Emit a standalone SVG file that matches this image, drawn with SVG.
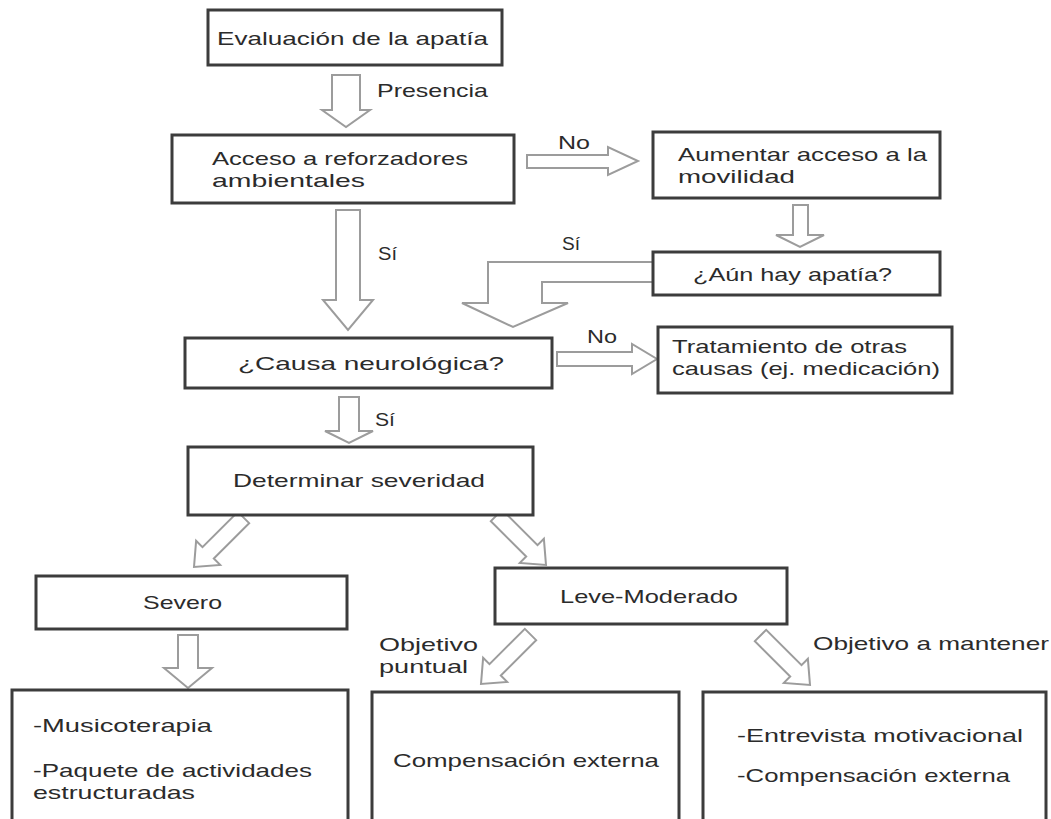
<svg xmlns="http://www.w3.org/2000/svg" xmlns:xlink="http://www.w3.org/1999/xlink" width="1051" height="819" viewBox="0 0 1051 819">
<style>
.box{fill:#fff;stroke:#3c3c3c;stroke-width:3}
.arr{fill:#fff;stroke:#9c9c9c;stroke-width:2;stroke-linejoin:miter}
text{font-family:"Liberation Sans","Open Sans","DejaVu Sans",sans-serif;font-size:19px;fill:#2b2b2b}
</style>
<defs>
<path id="diag" class="arr" d="M-8,-70 L8,-70 L8,-20 L17,-20 L0,0 L-17,-20 L-8,-20 Z"/>
</defs>
<rect width="1051" height="819" fill="#fff"/>
<g id="connectors">
<polygon class="arr" points="332,75 360,75 360,110 370,110 346,127 322,110 332,110"/>
<polygon class="arr" points="527,155 608,155 608,147 638,161 608,175 608,168 527,168"/>
<polygon class="arr" points="793,205 808,205 808,235 824,235 800,247 776,235 793,235"/>
<polygon class="arr" points="653,262 488,262 488,303 462,303 513,327 568,303 542,303 542,282 653,282"/>
<polygon class="arr" points="336,210 360,210 360,300 373,300 348,330 323,300 336,300"/>
<polygon class="arr" points="557,352 632,352 632,344 657,359 632,374 632,366 557,366"/>
<polygon class="arr" points="339,397 359,397 359,431 373,431 349,443 325,431 339,431"/>
<use xlink:href="#diag" transform="translate(194,567) rotate(45)"/>
<use xlink:href="#diag" transform="translate(546,565) rotate(-45)"/>
<polygon class="arr" points="178,635 198,635 198,668 212,668 188,688 164,668 178,668"/>
<use xlink:href="#diag" transform="translate(481,684) rotate(45)"/>
<use xlink:href="#diag" transform="translate(810,685) rotate(-45)"/>
<text x="377" y="97" textLength="111" lengthAdjust="spacingAndGlyphs">Presencia</text>
<text x="558" y="149" textLength="32" lengthAdjust="spacingAndGlyphs">No</text>
<text x="562" y="250" textLength="18" lengthAdjust="spacingAndGlyphs">Sí</text>
<text x="378" y="260" textLength="19" lengthAdjust="spacingAndGlyphs">Sí</text>
<text x="587" y="343" textLength="30" lengthAdjust="spacingAndGlyphs">No</text>
<text x="375" y="426" textLength="20" lengthAdjust="spacingAndGlyphs">Sí</text>
<text x="379" y="651" textLength="99" lengthAdjust="spacingAndGlyphs">Objetivo</text>
<text x="379" y="673" textLength="89" lengthAdjust="spacingAndGlyphs">puntual</text>
<text x="813" y="650" textLength="236" lengthAdjust="spacingAndGlyphs">Objetivo a mantener</text>
</g>
<g id="n1"><rect class="box" x="208" y="10" width="294" height="55"/>
<text x="217" y="45" textLength="271" lengthAdjust="spacingAndGlyphs">Evaluación de la apatía</text></g>
<g id="n2"><rect class="box" x="172" y="135" width="342" height="68"/>
<text x="212" y="165" textLength="256" lengthAdjust="spacingAndGlyphs">Acceso a reforzadores</text>
<text x="212" y="187" textLength="153" lengthAdjust="spacingAndGlyphs">ambientales</text></g>
<g id="n3"><rect class="box" x="653" y="132" width="287" height="66"/>
<text x="678" y="161" textLength="249" lengthAdjust="spacingAndGlyphs">Aumentar acceso a la</text>
<text x="678" y="183" textLength="117" lengthAdjust="spacingAndGlyphs">movilidad</text></g>
<g id="n4"><rect class="box" x="653" y="252" width="287" height="43"/>
<text x="693" y="281" textLength="199" lengthAdjust="spacingAndGlyphs">¿Aún hay apatía?</text></g>
<g id="n5"><rect class="box" x="185" y="338" width="367" height="50"/>
<text x="238" y="370" textLength="266" lengthAdjust="spacingAndGlyphs">¿Causa neurológica?</text></g>
<g id="n6"><rect class="box" x="658" y="327" width="294" height="66"/>
<text x="672" y="353" textLength="235" lengthAdjust="spacingAndGlyphs">Tratamiento de otras</text>
<text x="672" y="375" textLength="268" lengthAdjust="spacingAndGlyphs">causas (ej. medicación)</text></g>
<g id="n7"><rect class="box" x="188" y="447" width="345" height="68"/>
<text x="233" y="487" textLength="252" lengthAdjust="spacingAndGlyphs">Determinar severidad</text></g>
<g id="n8"><rect class="box" x="36" y="576" width="311" height="53"/>
<text x="143" y="609" textLength="79" lengthAdjust="spacingAndGlyphs">Severo</text></g>
<g id="n9"><rect class="box" x="495" y="568" width="292" height="56"/>
<text x="560" y="603" textLength="178" lengthAdjust="spacingAndGlyphs">Leve-Moderado</text></g>
<g id="n10"><rect class="box" x="12" y="690" width="336" height="140"/>
<text x="33" y="732" textLength="179" lengthAdjust="spacingAndGlyphs">-Musicoterapia</text>
<text x="33" y="777" textLength="279" lengthAdjust="spacingAndGlyphs">-Paquete de actividades</text>
<text x="33" y="799" textLength="162" lengthAdjust="spacingAndGlyphs">estructuradas</text></g>
<g id="n11"><rect class="box" x="372" y="692" width="307" height="140"/>
<text x="393" y="767" textLength="266" lengthAdjust="spacingAndGlyphs">Compensación externa</text></g>
<g id="n12"><rect class="box" x="703" y="692" width="343" height="140"/>
<text x="737" y="742" textLength="286" lengthAdjust="spacingAndGlyphs">-Entrevista motivacional</text>
<text x="737" y="782" textLength="273" lengthAdjust="spacingAndGlyphs">-Compensación externa</text></g>
</svg>
